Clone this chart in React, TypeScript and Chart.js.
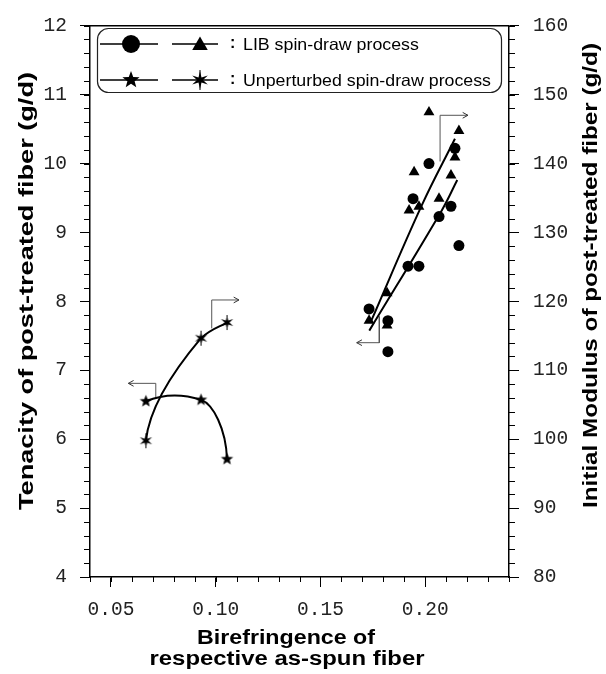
import React, { useEffect, useRef } from 'react';
import { Chart, registerables } from 'chart.js';
Chart.register(...registerables);

// ---------- data ----------
// LIB spin-draw process: tenacity (circles, left axis)
const birefLIBCircle = [0.1732, 0.1822, 0.1822, 0.1918, 0.1970, 0.1942, 0.2018, 0.2066, 0.2123, 0.2142, 0.2161];
const tenacityLIB = [7.89, 7.72, 7.27, 8.51, 8.51, 9.49, 10.0, 9.23, 9.38, 10.22, 8.81];
// LIB spin-draw process: initial modulus (triangles, right axis)
const birefLIBTriangle = [0.2018, 0.2161, 0.2142, 0.1947, 0.2123, 0.2066, 0.1923, 0.1970, 0.1818, 0.1732, 0.1818];
const modulusLIB = [147.45, 144.74, 140.9, 138.75, 138.3, 134.9, 133.2, 133.76, 121.2, 117.2, 116.5];
// LIB trend lines
const birefFitTen = [0.1733, 0.2079, 0.2153];
const tenacityFit = [7.575, 9.32, 9.76];
const birefFitMod = [0.1741, 0.1983, 0.2142];
const modulusFit = [117.08, 133.9, 143.6];
// Unperturbed spin-draw process
const birefUnpert = [0.0667, 0.0930, 0.1054];
const tenacityUnpert = [6.55, 6.57, 5.71];
const modulusUnpert = [99.78, 114.65, 116.93];
// axis ticks
const xTicks = [0.05, 0.10, 0.15, 0.20];
const xRange = [0.04, 0.24];
const tenacityRange = [4, 12];
const modulusRange = [80, 160];
// axis-pointer arrows (data units)
const arrowLIBModX = [0.2071, 0.2071, 0.2204];
const arrowLIBModY = [140.3, 147.0, 147.0];
const arrowLIBTenX = [0.1781, 0.1781, 0.1673];
const arrowLIBTenY = [7.78, 7.40, 7.40];
const arrowUnTenX = [0.0714, 0.0714, 0.0583];
const arrowUnTenY = [6.585, 6.81, 6.81];
const arrowUnModX = [0.0981, 0.0981, 0.1111];
const arrowUnModY = [116.08, 120.2, 120.2];

const legendRows = ['LIB spin-draw process', 'Unperturbed spin-draw process'];
const titles = {
  x1: 'Birefringence of',
  x2: 'respective as-spun fiber',
  y: 'Tenacity of post-treated fiber (g/d)',
  y2: 'Initial Modulus of post-treated fiber (g/d)',
};

const SANS = '"Liberation Sans", Arial, sans-serif';
const MONO = '"Liberation Mono", "Courier New", monospace';

function makeStar(r: number, inner: number, n: number) {
  const size = Math.ceil(r * 2 + 4);
  const c = document.createElement('canvas');
  c.width = size; c.height = size;
  const ctx = c.getContext('2d')!;
  const cx = size / 2, cy = size / 2;
  ctx.beginPath();
  for (let i = 0; i < 2 * n; i++) {
    const rad = i % 2 === 0 ? r : inner;
    const a = -Math.PI / 2 + (i * Math.PI) / n;
    const px = cx + rad * Math.cos(a), py = cy + rad * Math.sin(a);
    if (i === 0) ctx.moveTo(px, py); else ctx.lineTo(px, py);
  }
  ctx.closePath();
  ctx.fillStyle = '#000';
  ctx.fill();
  return c;
}

function makeAsterisk(r: number, inner: number, lineLen: number) {
  const size = Math.ceil(Math.max(r, lineLen) * 2 + 4);
  const c = document.createElement('canvas');
  c.width = size; c.height = size;
  const ctx = c.getContext('2d')!;
  const cx = size / 2, cy = size / 2;
  ctx.beginPath();
  const n = 6;
  for (let i = 0; i < 2 * n; i++) {
    const rad = i % 2 === 0 ? r : inner;
    const a = -Math.PI / 2 + (i * Math.PI) / n;
    const px = cx + rad * Math.cos(a), py = cy + rad * Math.sin(a);
    if (i === 0) ctx.moveTo(px, py); else ctx.lineTo(px, py);
  }
  ctx.closePath();
  ctx.fillStyle = '#000';
  ctx.fill();
  ctx.strokeStyle = '#000';
  ctx.lineWidth = 1;
  ctx.beginPath();
  ctx.moveTo(cx, cy - lineLen);
  ctx.lineTo(cx, cy + lineLen);
  ctx.stroke();
  return c;
}

const pts = (xs: number[], ys: number[]) => xs.map((x, i) => ({ x, y: ys[i] }));

function stretchedText(ctx: CanvasRenderingContext2D, text: string, x: number, y: number, rot: number, targetW: number, font: string, align: CanvasTextAlign = 'center') {
  ctx.save();
  ctx.font = font;
  const w = ctx.measureText(text).width;
  ctx.translate(x, y);
  ctx.rotate(rot);
  ctx.scale(targetW / w, 1);
  ctx.textAlign = align;
  ctx.textBaseline = 'alphabetic';
  ctx.fillStyle = '#000';
  ctx.fillText(text, 0, 0);
  ctx.restore();
}

export default function App() {
  const ref = useRef<HTMLCanvasElement>(null);

  useEffect(() => {
    const canvas = ref.current!;
    const star5 = makeStar(6.5, 2.8, 5);
    const star6 = makeAsterisk(7, 2.4, 7.5);
    const legStar5 = makeStar(9, 3.8, 5);
    const legStar6 = makeAsterisk(9, 3, 10);

    const arrowDs = (xs: number[], ys: number[], axis: string) => ({
      label: 'arrow',
      data: pts(xs, ys),
      yAxisID: axis,
      showLine: true,
      borderColor: '#555',
      borderWidth: 1,
      pointRadius: 0,
      tension: 0,
      fill: false,
    });

    // shape of the hand-drawn curves through the unperturbed points
    const curveShape = {
      id: 'curveShape',
      beforeDatasetDraw(chart: any, args: any) {
        const ds = chart.data.datasets[args.index];
        const line = args.meta.dataset;
        if (!line || !line.updateControlPoints) return;
        const p = args.meta.data;
        if (ds.label === 'Unperturbed tenacity') {
          line.updateControlPoints(chart.chartArea, 'x');
          const d01 = p[1].x - p[0].x;
          p[0].cp2x = p[0].x + 0.35 * d01; p[0].cp2y = p[0].y - 8;
          p[1].cp1x = p[1].x - 0.33 * d01; p[1].cp1y = p[1].y - 6;
          p[1].cp2x = p[1].x + 12; p[1].cp2y = p[1].y + 4;
          p[2].cp1x = p[2].x - 1; p[2].cp1y = p[2].y - 30;
          line._path = undefined;
        } else if (ds.label === 'Unperturbed modulus') {
          line.updateControlPoints(chart.chartArea, 'x');
          p[0].cp2x = p[0].x + 4; p[0].cp2y = p[0].y - 38;
          p[1].cp1x = p[1].x - 22; p[1].cp1y = p[1].y + 26;
          p[1].cp2x = p[1].x + 9; p[1].cp2y = p[1].y - 9;
          p[2].cp1x = p[2].x - 9; p[2].cp1y = p[2].y + 5;
          line._path = undefined;
        }
      },
    };

    const decor = {
      id: 'decor',
      afterDraw(chart: any) {
        const { ctx, chartArea: ca, scales } = chart;
        const xs = scales.x, yl = scales.y, yr = scales.y2;
        ctx.save();
        // top frame
        ctx.strokeStyle = '#000';
        ctx.lineWidth = 1.5;
        ctx.beginPath();
        ctx.moveTo(ca.left, ca.top);
        ctx.lineTo(ca.right, ca.top);
        ctx.stroke();
        // minor ticks
        ctx.lineWidth = 1;
        ctx.beginPath();
        for (let i = 0; i <= 20; i++) {
          const px = Math.round(xs.getPixelForValue(xRange[0] + i * 0.01)) + 0.5;
          ctx.moveTo(px, ca.bottom);
          ctx.lineTo(px, ca.bottom + 5);
        }
        for (let i = 0; i <= 40; i++) {
          const py = Math.round(yl.getPixelForValue(tenacityRange[0] + i * 0.2)) + 0.5;
          ctx.moveTo(ca.left, py);
          ctx.lineTo(ca.left - 6, py);
        }
        for (let i = 0; i <= 40; i++) {
          const py = Math.round(yr.getPixelForValue(modulusRange[0] + i * 2)) + 0.5;
          ctx.moveTo(ca.right, py);
          ctx.lineTo(ca.right + 6, py);
        }
        ctx.stroke();

        // arrowheads
        chart.data.datasets.forEach((ds: any, i: number) => {
          if (ds.label !== 'arrow') return;
          const meta = chart.getDatasetMeta(i);
          const n = meta.data.length;
          const p1 = meta.data[n - 2], p2 = meta.data[n - 1];
          const ang = Math.atan2(p2.y - p1.y, p2.x - p1.x);
          ctx.strokeStyle = '#333';
          ctx.lineWidth = 1;
          ctx.beginPath();
          ctx.moveTo(p2.x - 6 * Math.cos(ang - 0.5), p2.y - 6 * Math.sin(ang - 0.5));
          ctx.lineTo(p2.x, p2.y);
          ctx.lineTo(p2.x - 6 * Math.cos(ang + 0.5), p2.y - 6 * Math.sin(ang + 0.5));
          ctx.stroke();
        });

        // axis titles
        const tFont = `bold 20px ${SANS}`;
        stretchedText(ctx, titles.y, 33, 291, -Math.PI / 2, 438, tFont);
        stretchedText(ctx, titles.y2, 597, 275.5, -Math.PI / 2, 465, tFont);
        stretchedText(ctx, titles.x1, 286, 644, 0, 178, tFont);
        stretchedText(ctx, titles.x2, 287, 665, 0, 275, tFont);

        // legend box
        ctx.strokeStyle = '#222';
        ctx.lineWidth = 1.2;
        ctx.beginPath();
        ctx.roundRect(97.5, 28.5, 404, 64, 11);
        ctx.stroke();
        const rows = [44, 80];
        ctx.strokeStyle = '#000';
        ctx.lineWidth = 1.5;
        rows.forEach((y) => {
          ctx.beginPath();
          ctx.moveTo(100, y); ctx.lineTo(158, y);
          ctx.moveTo(172, y); ctx.lineTo(218, y);
          ctx.stroke();
        });
        ctx.fillStyle = '#000';
        ctx.beginPath();
        ctx.arc(131, rows[0], 9, 0, Math.PI * 2);
        ctx.fill();
        const tr = 9;
        ctx.beginPath();
        for (let k = 0; k < 3; k++) {
          const a = -Math.PI / 2 + (k * 2 * Math.PI) / 3;
          const px = 200 + tr * Math.cos(a), py = rows[0] + 1.5 + tr * Math.sin(a);
          if (k === 0) ctx.moveTo(px, py); else ctx.lineTo(px, py);
        }
        ctx.closePath();
        ctx.fill();
        ctx.drawImage(legStar5, 131 - legStar5.width / 2, rows[1] - legStar5.height / 2);
        ctx.drawImage(legStar6, 200 - legStar6.width / 2, rows[1] - legStar6.height / 2);
        const lFont = `16.5px ${SANS}`;
        ctx.font = `bold 16px ${SANS}`;
        ctx.fillStyle = '#000';
        ctx.textBaseline = 'middle';
        ctx.textAlign = 'left';
        rows.forEach((y) => ctx.fillText(':', 230, y));
        ctx.font = lFont;
        ctx.textBaseline = 'alphabetic';
        const w2 = ctx.measureText(legendRows[1]).width;
        const s = 248 / w2;
        const w1 = ctx.measureText(legendRows[0]).width * s;
        stretchedText(ctx, legendRows[0], 243, rows[0] + 6, 0, w1, lFont, 'left');
        stretchedText(ctx, legendRows[1], 243, rows[1] + 6, 0, 248, lFont, 'left');
        ctx.restore();
      },
    };

    const tickFont = { family: MONO, size: 19.5 };

    const chart = new Chart(canvas, {
      type: 'scatter',
      data: {
        datasets: [
          {
            label: 'LIB tenacity fit',
            data: pts(birefFitTen, tenacityFit),
            yAxisID: 'y',
            showLine: true,
            borderColor: '#000',
            borderWidth: 2,
            pointRadius: 0,
            tension: 0.4,
          },
          {
            label: 'LIB modulus fit',
            data: pts(birefFitMod, modulusFit),
            yAxisID: 'y2',
            showLine: true,
            borderColor: '#000',
            borderWidth: 2,
            pointRadius: 0,
            tension: 0.4,
          },
          {
            label: 'LIB tenacity',
            data: pts(birefLIBCircle, tenacityLIB),
            yAxisID: 'y',
            pointStyle: 'circle',
            pointRadius: 5.5,
            backgroundColor: '#000',
            borderColor: '#000',
            borderWidth: 0,
          },
          {
            label: 'LIB modulus',
            data: pts(birefLIBTriangle, modulusLIB),
            yAxisID: 'y2',
            pointStyle: 'triangle',
            pointRadius: 6.3,
            backgroundColor: '#000',
            borderColor: '#000',
            borderWidth: 0,
          },
          {
            label: 'Unperturbed tenacity',
            data: pts(birefUnpert, tenacityUnpert),
            yAxisID: 'y',
            showLine: true,
            borderColor: '#000',
            borderWidth: 2,
            tension: 0.4,
            pointStyle: star5 as any,
            pointRadius: 7,
          },
          {
            label: 'Unperturbed modulus',
            data: pts(birefUnpert, modulusUnpert),
            yAxisID: 'y2',
            showLine: true,
            borderColor: '#000',
            borderWidth: 2,
            tension: 0.4,
            pointStyle: star6 as any,
            pointRadius: 7,
          },
          arrowDs(arrowLIBModX, arrowLIBModY, 'y2'),
          arrowDs(arrowLIBTenX, arrowLIBTenY, 'y'),
          arrowDs(arrowUnTenX, arrowUnTenY, 'y'),
          arrowDs(arrowUnModX, arrowUnModY, 'y2'),
        ] as any,
      },
      options: {
        responsive: false,
        animation: false,
        devicePixelRatio: 1,
        layout: { padding: { top: 17, left: 0, right: 0, bottom: 0 } },
        plugins: { legend: { display: false }, tooltip: { enabled: false } },
        scales: {
          x: {
            type: 'linear',
            position: 'bottom',
            min: xRange[0],
            max: xRange[1],
            afterBuildTicks: (s: any) => { s.ticks = xTicks.map((v) => ({ value: v })); },
            afterFit: (s: any) => { s.height = 97; },
            ticks: {
              callback: (v: any) => Number(v).toFixed(2),
              font: tickFont,
              color: '#222',
              padding: 11,
              maxRotation: 0,
              autoSkip: false,
            },
            grid: { drawOnChartArea: false, drawTicks: true, tickLength: 10, color: '#000', tickColor: '#000' },
            border: { display: true, color: '#000', width: 1.5 },
          },
          y: {
            type: 'linear',
            position: 'left',
            min: tenacityRange[0],
            max: tenacityRange[1],
            afterFit: (s: any) => { s.width = 90; },
            ticks: { stepSize: 1, font: tickFont, color: '#222', padding: 13 },
            grid: { drawOnChartArea: false, drawTicks: true, tickLength: 10, color: '#000', tickColor: '#000' },
            border: { display: true, color: '#000', width: 1.5 },
          },
          y2: {
            type: 'linear',
            position: 'right',
            min: modulusRange[0],
            max: modulusRange[1],
            afterFit: (s: any) => { s.width = 97; },
            ticks: { stepSize: 10, font: tickFont, color: '#222', padding: 14 },
            grid: { drawOnChartArea: false, drawTicks: true, tickLength: 10, color: '#000', tickColor: '#000' },
            border: { display: true, color: '#000', width: 1.5 },
          },
        },
      } as any,
      plugins: [curveShape, decor],
    });
    return () => chart.destroy();
  }, []);

  return (
    <div style={{ position: 'fixed', left: 0, top: 0, width: 606, height: 674, background: '#fff' }}>
      <canvas ref={ref} width={606} height={674} style={{ display: 'block' }} />
    </div>
  );
}
